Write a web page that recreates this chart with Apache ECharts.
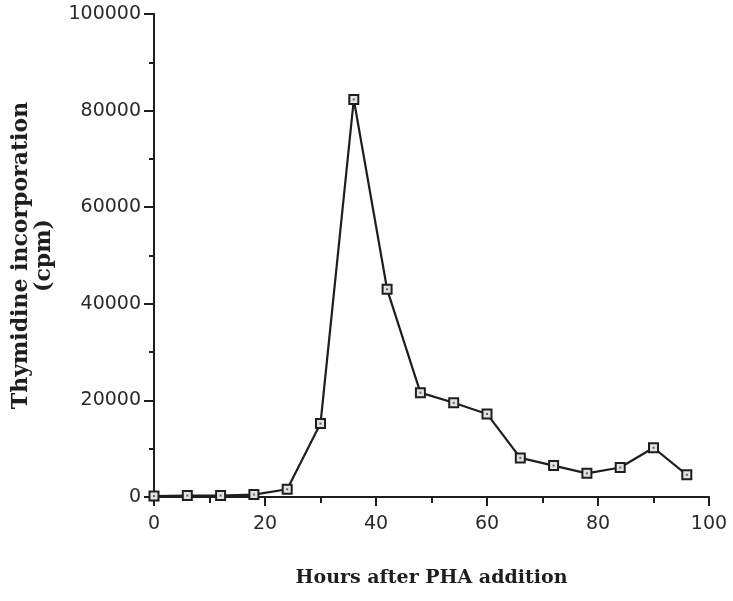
<!DOCTYPE html>
<html>
<head>
<meta charset="utf-8">
<script src="https://cdn.jsdelivr.net/npm/echarts@6/dist/echarts.min.js"></script>
<style>
  html, body { margin: 0; padding: 0; background: #fff; }
  #chart { width: 733px; height: 601px; }
</style>
</head>
<body>
<div id="chart"></div>
<script>
// Sampling times (hours after PHA addition)
const hours = [0, 6, 12, 18, 24, 30, 36, 42, 48, 54, 60, 66, 72, 78, 84, 90, 96];
// Thymidine incorporation (cpm) at each time point
const cpm = [200, 300, 300, 500, 1600, 15200, 82300, 43000, 21600, 19500, 17200, 8100, 6500, 4900, 6100, 10200, 4600];

const xTitle = 'Hours after PHA addition';
const yTitle = 'Thymidine incorporation\n(cpm)';

const points = hours.map((h, i) => [h, cpm[i]]);
const ink = '#1e1e1e';

const chart = echarts.init(document.getElementById('chart'), null, { renderer: 'canvas' });
chart.setOption({
  animation: false,
  backgroundColor: '#fff',
  grid: { left: 154, right: 24, top: 14, bottom: 104, containLabel: false, outerBoundsMode: 'none' },
  xAxis: {
    type: 'value',
    min: 0, max: 100, interval: 20,
    name: xTitle,
    nameLocation: 'middle',
    nameGap: 72,
    nameTextStyle: { fontFamily: 'DejaVu Serif', fontWeight: 'bold', fontSize: 19, color: ink },
    axisLine: { onZero: false, lineStyle: { color: ink, width: 2 } },
    axisTick: { length: 9, lineStyle: { color: ink, width: 2 } },
    minorTick: { show: true, splitNumber: 2, length: 6, lineStyle: { color: ink, width: 2 } },
    axisLabel: { margin: 18, fontFamily: 'DejaVu Sans', fontSize: 19, color: '#2a2a2a' },
    splitLine: { show: false }
  },
  yAxis: {
    type: 'value',
    min: 0, max: 100000, interval: 20000,
    name: yTitle,
    nameLocation: 'middle',
    nameGap: 98,
    nameTextStyle: { fontFamily: 'DejaVu Serif', fontWeight: 'bold', fontSize: 22, lineHeight: 23, color: ink },
    axisLine: { show: true, lineStyle: { color: ink, width: 2 } },
    axisTick: { show: true, length: 10, lineStyle: { color: ink, width: 2 } },
    minorTick: { show: true, splitNumber: 2, length: 5, lineStyle: { color: ink, width: 2 } },
    axisLabel: {
      margin: 13, fontFamily: 'DejaVu Sans', fontSize: 19, color: '#2a2a2a',
      formatter: (v) => String(v)
    },
    splitLine: { show: false }
  },
  series: [
    {
      type: 'line',
      data: points,
      symbol: 'rect',
      symbolSize: 9,
      lineStyle: { color: ink, width: 2.2 },
      itemStyle: { color: '#e2e2e2', borderColor: ink, borderWidth: 2 },
      z: 2
    },
    {
      // small dot at the centre of each square marker
      type: 'scatter',
      data: points,
      symbol: 'rect',
      symbolSize: 2,
      itemStyle: { color: '#444' },
      silent: true,
      z: 3
    }
  ]
});
</script>
</body>
</html>
